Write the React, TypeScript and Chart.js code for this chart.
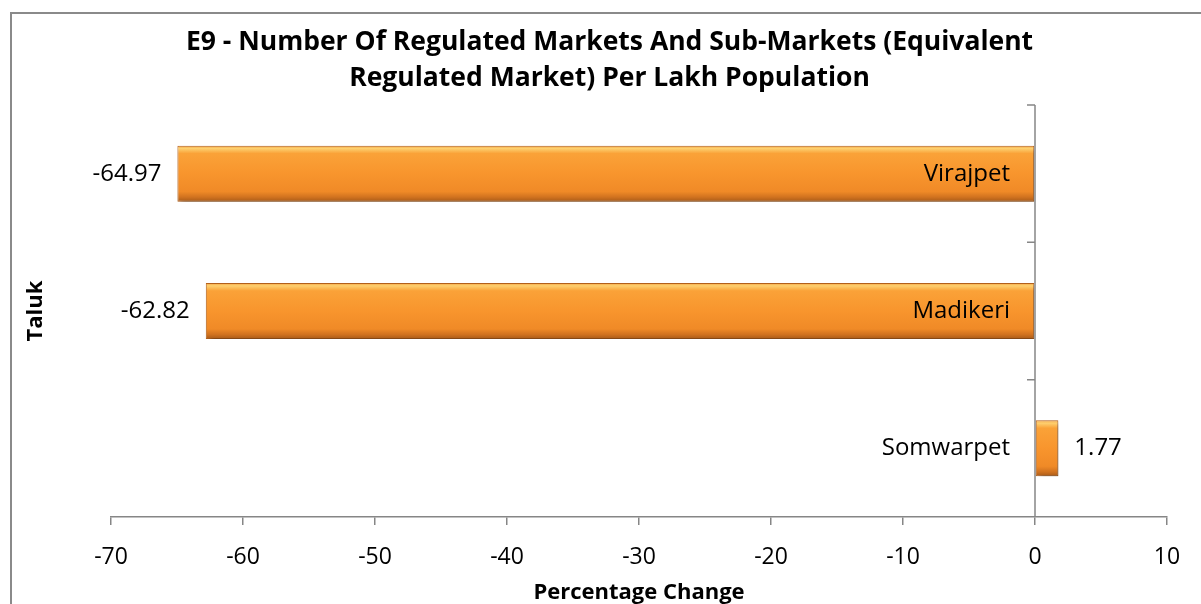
import React, { useEffect, useRef } from "react";
import { Chart, registerables } from "chart.js";

Chart.register(...registerables);

const taluks = ["Virajpet", "Madikeri", "Somwarpet"];
const changes = [-64.97, -62.82, 1.77];
const xMin = -70;
const xMax = 10;
const xStep = 10;
const titleLines = [
  "E9 - Number Of Regulated Markets And Sub-Markets (Equivalent",
  "Regulated Market) Per Lakh Population",
];
const xTitle = "Percentage Change";
const yTitle = "Taluk";

const FONT = "'Open Sans', Lato, sans-serif";
const AXIS_GRAY = "#868686";
const CAT_PCT = 0.8;
const BAR_PCT = 0.51;

const overlayPlugin = {
  id: "overlay",
  beforeDatasetsDraw(chart: any) {
    const ctx = chart.ctx;
    ctx.save();
    ctx.shadowColor = "rgba(0,0,0,0.35)";
    ctx.shadowBlur = 5;
    ctx.shadowOffsetX = 3;
    ctx.shadowOffsetY = 3;
  },
  afterDatasetsDraw(chart: any) {
    const ctx = chart.ctx;
    ctx.restore();
    const xs = chart.scales.x;
    const ys = chart.scales.y;
    const area = chart.chartArea;
    const x0 = xs.getPixelForValue(0);
    const band = ys.getPixelForValue(1) - ys.getPixelForValue(0);
    ctx.save();
    ctx.strokeStyle = AXIS_GRAY;
    ctx.lineWidth = 1.5;
    ctx.beginPath();
    ctx.moveTo(x0, area.top);
    ctx.lineTo(x0, area.bottom);
    for (let i = 0; i < taluks.length; i++) {
      const yb = ys.getPixelForValue(i) - band / 2;
      ctx.moveTo(x0 - 8, yb);
      ctx.lineTo(x0, yb);
    }
    ctx.stroke();
    ctx.restore();

    ctx.save();
    ctx.fillStyle = "#000";
    ctx.font = `24px ${FONT}`;
    ctx.textBaseline = "middle";
    taluks.forEach((name, i) => {
      const y = ys.getPixelForValue(i);
      const v = changes[i];
      const xe = xs.getPixelForValue(v);
      ctx.textAlign = "right";
      ctx.fillText(name, x0 - 25, y);
      if (v < 0) {
        ctx.textAlign = "right";
        ctx.fillText(v.toFixed(2), xe - 16, y);
      } else {
        ctx.textAlign = "left";
        ctx.fillText(v.toFixed(2), xe + 16, y);
      }
    });
    ctx.restore();
  },
  afterDraw(chart: any) {
    const ctx = chart.ctx;
    ctx.save();
    ctx.fillStyle = "#000";
    ctx.font = `bold 26.5px ${FONT}`;
    ctx.textAlign = "center";
    ctx.textBaseline = "middle";
    titleLines.forEach((t, i) => ctx.fillText(t, 609.5, 42 + i * 36));
    ctx.restore();
  },
};

function barFill(c: any) {
  const chart = c.chart;
  const ys = chart.scales?.y;
  if (!ys || c.dataIndex === undefined) return "#F7932B";
  const y = ys.getPixelForValue(c.dataIndex);
  const band = Math.abs(ys.getPixelForValue(1) - ys.getPixelForValue(0));
  const h = band * CAT_PCT * BAR_PCT;
  if (!isFinite(y) || !isFinite(h) || h <= 0) return "#F7932B";
  const g = chart.ctx.createLinearGradient(0, y - h / 2, 0, y + h / 2);
  g.addColorStop(0, "#F6A03C");
  g.addColorStop(0.05, "#FDD070");
  g.addColorStop(0.14, "#FAA238");
  g.addColorStop(0.5, "#F8952D");
  g.addColorStop(0.82, "#F08A27");
  g.addColorStop(0.92, "#D0721F");
  g.addColorStop(1, "#A85A18");
  return g;
}

export default function App() {
  const ref = useRef<HTMLCanvasElement>(null);
  useEffect(() => {
    if (!ref.current) return;
    const chart = new Chart(ref.current, {
      type: "bar",
      data: {
        labels: taluks,
        datasets: [
          {
            data: changes,
            backgroundColor: barFill,
            borderColor: "#B5621C",
            borderWidth: 1,
            borderSkipped: false,
            categoryPercentage: CAT_PCT,
            barPercentage: BAR_PCT,
          },
        ],
      },
      options: {
        indexAxis: "y",
        responsive: false,
        animation: false,
        events: [],
        layout: { padding: { top: 105, right: 34, bottom: 0, left: 0 } },
        plugins: {
          legend: { display: false },
          title: { display: false },
          tooltip: { enabled: false },
        },
        scales: {
          x: {
            type: "linear",
            min: xMin,
            max: xMax,
            ticks: {
              stepSize: xStep,
              color: "#000",
              font: { family: FONT, size: 23 },
              padding: 19,
            },
            grid: {
              drawOnChartArea: false,
              drawTicks: true,
              tickLength: 8,
              color: AXIS_GRAY,
              tickColor: AXIS_GRAY,
              lineWidth: 1.5,
            },
            border: { display: true, color: AXIS_GRAY, width: 1.5 },
            title: {
              display: true,
              text: xTitle,
              color: "#000",
              font: { family: FONT, size: 22, weight: "bold" },
              padding: { top: 0, bottom: -2 },
            },
            afterFit(scale: any) {
              scale.height = 87;
            },
          },
          y: {
            type: "category",
            ticks: { display: false },
            grid: { display: false },
            border: { display: false },
            title: {
              display: true,
              text: yTitle,
              color: "#000",
              font: { family: FONT, size: 22, weight: "bold" },
              padding: { top: 23, bottom: 0 },
            },
            afterFit(scale: any) {
              scale.width = 111;
            },
          },
        },
      },
      plugins: [overlayPlugin],
    } as any);
    return () => chart.destroy();
  }, []);

  return (
    <div
      style={{
        position: "fixed",
        left: 0,
        top: 0,
        width: 1201,
        height: 604,
        overflow: "hidden",
        background: "#fff",
      }}
    >
      <div
        style={{
          position: "absolute",
          left: 10,
          top: 12,
          width: 1220,
          height: 640,
          border: "2px solid #8A8A8A",
          boxSizing: "border-box",
        }}
      />
      <canvas
        ref={ref}
        width={1201}
        height={604}
        style={{ position: "absolute", left: 0, top: 0, display: "block" }}
      />
    </div>
  );
}
